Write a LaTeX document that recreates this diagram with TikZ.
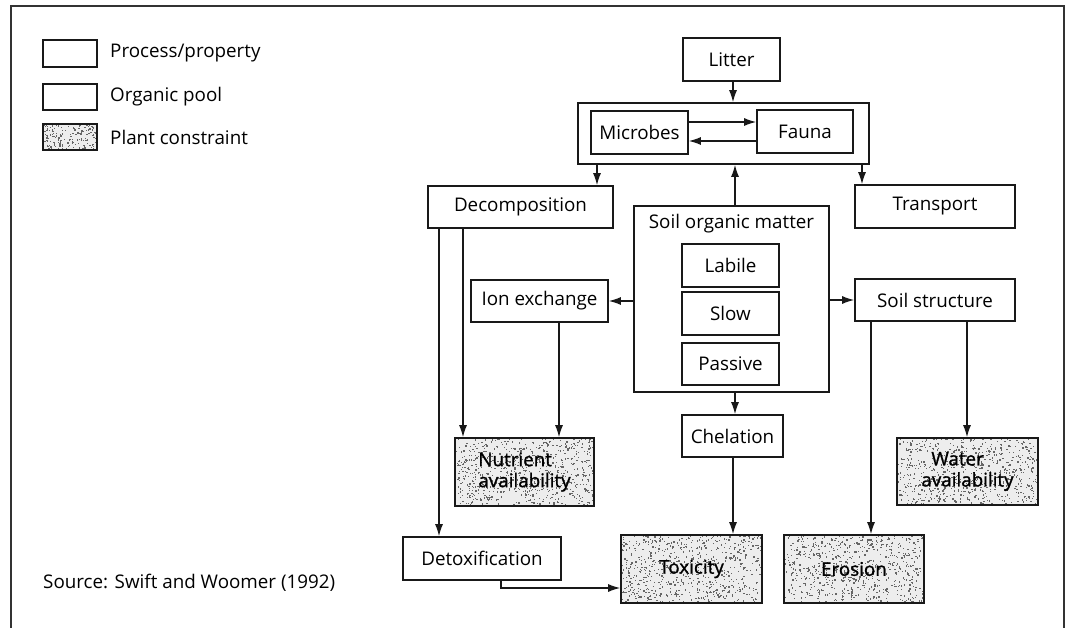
\documentclass[tikz,border=0pt]{standalone}
\usepackage{fontspec}
\setmainfont{Open Sans}
\newfontfamily\heavier[FakeBold=1.2]{Open Sans}
\usetikzlibrary{arrows.meta}

% box: name, x1, y1, x2, y2, text (coordinates in px-like units)
\newcommand\bx[7][]{\node[box,#1,minimum width={(#5)-(#3)},minimum height={(#6)-(#4)}] (#2) at ({((#3)+(#5))/2},{((#4)+(#6))/2}) {#7};}
% speckled background for plant-constraint boxes
\newcommand\speckle[5]{%
  \fill[black!7] (#1,#2) rectangle (#3,#4);
  \foreach \k in {1,...,#5}{\fill[speck] ({#1+rnd*(#3-#1)},{#2+rnd*(#4-#2)}) rectangle +(1.3,1.3);}}

\begin{document}
\begin{tikzpicture}[x=1pt,y=-1pt,
  txt/.style={font=\fontsize{18.8}{21}\selectfont, inner sep=0pt},
  box/.style={draw=black!90, line width=1.6pt, inner sep=0pt, txt},
  cbox/.style={box, font=\fontsize{18.8}{21}\heavier},
  arr/.style={line width=1.3pt, draw=black!90, -{Latex[length=12pt,width=8pt]}},
  speck/.style={fill=black!60}]
\pgfmathsetseed{4242}
\useasboundingbox (0,0) rectangle (1066,628);

% outer frame (open at the bottom)
\draw[line width=1.5pt, black!80] (11,628) -- (11,6) -- (1064,6) -- (1064,628);

% legend
\bx{lga}{43}{40}{97}{67}{}
\bx{lgb}{43}{84}{97}{110}{}
\speckle{43}{124}{97}{150}{170}
\bx{lgc}{43}{124}{97}{150}{}
\node[txt,anchor=west] (lta) at (110,53) {Process/property};
\node[txt,anchor=west] (ltb) at (110,97) {Organic pool};
\node[txt,anchor=west] (ltc) at (110,137) {Plant constraint};
\node[txt,anchor=west] (src) at (43,583) {Source: Swift and Woomer (1992)};

% processes and pools
\bx{litter}{683}{38}{780}{81}{Litter}
\bx{group}{578}{103}{869}{164}{}
\bx{mic}{591}{111}{688}{154}{Microbes}
\bx{fau}{757}{110}{853}{153}{Fauna}
\bx{dec}{428}{186}{613}{228}{Decomposition}
\bx{tra}{855}{185}{1015}{228}{Transport}
\bx{som}{634}{206}{829}{392}{}
\node[txt] (somt) at (731.5,224) {Soil organic matter};
\bx{lab}{682}{244}{779}{287}{Labile}
\bx{slo}{682}{292}{779}{335}{Slow}
\bx{pas}{682}{343}{779}{385}{Passive}
\bx{ion}{471}{280}{608}{322}{Ion exchange}
\bx{soi}{855}{279}{1015}{321}{Soil structure}
\bx{che}{682}{415}{783}{457}{Chelation}
\bx{det}{403}{537}{561}{580}{Detoxification}

% plant constraints
\speckle{455}{438}{594}{506}{700}
\bx[cbox,align=left]{nut}{455}{438}{594}{506}{Nutrient\\availability}
\speckle{897}{438}{1038}{505}{700}
\bx[cbox,align=left]{wat}{897}{438}{1038}{505}{\hspace{10pt}Water\\availability}
\speckle{621}{535}{762}{603}{700}
\bx[cbox]{tox}{621}{535}{762}{603}{Toxicity}
\speckle{784}{535}{924}{603}{700}
\bx[cbox]{ero}{784}{535}{924}{603}{Erosion}

% connector positions
\coordinate (xl) at (733,0);
\coordinate (ya) at (0,122);
\coordinate (yb) at (0,141);
\coordinate (xd) at (597,0);
\coordinate (xt) at (862,0);
\coordinate (xs) at (735,0);
\coordinate (xdd) at (439,0);
\coordinate (xdn) at (463,0);
\coordinate (xin) at (559,0);
\coordinate (xq) at (501,0);
\coordinate (yq) at (0,588);
\coordinate (xe) at (871,0);
\coordinate (xw) at (967,0);

% connectors
\draw[arr] (litter.south -| xl) -- (group.north -| xl);
\draw[arr] (mic.east |- ya) -- (fau.west |- ya);
\draw[arr] (fau.west |- yb) -- (mic.east |- yb);
\draw[arr] (group.south -| xd) -- (dec.north -| xd);
\draw[arr] (group.south -| xt) -- (tra.north -| xt);
\draw[arr] (som.north -| xs) -- (group.south -| xs);
\draw[arr] (som.west |- ion.east) -- (ion.east);
\draw[arr] (som.east |- soi.west) -- (soi.west);
\draw[arr] (som.south -| xs) -- (che.north -| xs);
\draw[arr] (dec.south -| xdd) -- (det.north -| xdd);
\draw[arr] (dec.south -| xdn) -- (nut.north -| xdn);
\draw[arr] (ion.south -| xin) -- (nut.north -| xin);
\draw[arr] (det.south -| xq) |- (tox.west |- yq);
\draw[arr] (che.south -| xl) -- (tox.north -| xl);
\draw[arr] (soi.south -| xe) -- (ero.north -| xe);
\draw[arr] (soi.south -| xw) -- (wat.north -| xw);
\end{tikzpicture}
\end{document}
